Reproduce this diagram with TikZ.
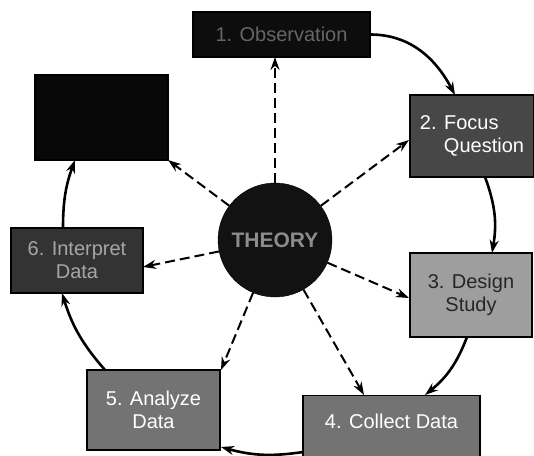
\documentclass[tikz,border=0pt]{standalone}
\usepackage{fontspec}
\setmainfont{Liberation Sans}
\usetikzlibrary{arrows.meta}
\begin{document}
\begin{tikzpicture}[x=1pt,y=1pt,
  box/.style={draw=black,line width=1.2pt,inner sep=0pt,align=center,
    font=\fontsize{20}{23}\selectfont},
  cyc/.style={line width=2.6pt,-{Stealth[length=13pt,width=9pt]}},
  dsh/.style={line width=2pt,dash pattern=on 10pt off 5pt,-{Stealth[length=13pt,width=9pt]}}]
\useasboundingbox (0,0) rectangle (534,455);
% boxes
\node[box,fill=black!95,text=black!60,minimum width=177pt,minimum height=45pt] (b1) at (281.5,420.5) {1. Observation};
\node[box,fill=black!72,text=white!92,minimum width=124pt,minimum height=82pt,align=left] (b2) at (472,319) {2. Focus\\\hspace*{1.2em}Question};
\node[box,fill=black!38,text=black!85,minimum width=122pt,minimum height=84pt] (b3) at (471,160) {3. Design\\Study};
\node[box,fill=black!55,text=white!90,minimum width=177pt,minimum height=66pt,anchor=north] (b4) at (391.5,60) {\raisebox{14pt}{4. Collect Data}};
\node[box,fill=black!55,text=white!92,minimum width=133pt,minimum height=80pt] (b5) at (153.5,45) {5. Analyze\\Data};
\node[box,fill=black!80,text=black!35,minimum width=132pt,minimum height=65pt] (b6) at (77,194.5) {6. Interpret\\Data};
\node[box,fill=black!97,minimum width=133pt,minimum height=85pt] (b7) at (101.5,337.5) {};
% theory
\node[circle,draw=black,fill=black!93,minimum size=114pt,inner sep=0pt,text=black!45,
  font=\bfseries\fontsize{21}{24}\selectfont] (th) at (275,215) {THEORY};
% cycle arrows
\coordinate (c1a) at (370,420.5);
\coordinate (c1b) at (455,360);
\coordinate (c2a) at (485,278);
\coordinate (c2b) at (492,202);
\coordinate (c3a) at (467,118);
\coordinate (c3b) at (425,60);
\coordinate (c4a) at (303,3);
\coordinate (c4b) at (221,8);
\coordinate (c5a) at (105,85);
\coordinate (c5b) at (62,162);
\coordinate (c6a) at (63,227);
\coordinate (c6b) at (75,295);
\draw[cyc] (c1a) to[out=0,in=118] (c1b);
\draw[cyc] (c2a) to[bend left=15] (c2b);
\draw[cyc] (c3a) to[bend left=15] (c3b);
\draw[cyc] (c4a) to[bend left=12] (c4b);
\draw[cyc] (c5a) to[bend left=12] (c5b);
\draw[cyc] (c6a) to[bend left=10] (c6b);
% dashed arrows from theory
\coordinate (d1) at (275,398);
\coordinate (d2) at (409,315);
\coordinate (d3) at (409,157);
\coordinate (d4) at (364,60);
\coordinate (d5) at (221,85);
\coordinate (d6) at (143,188);
\coordinate (d7) at (168,295);
\foreach \d in {d1,d2,d3,d4,d5,d6,d7} \draw[dsh] (th) -- (\d);
\end{tikzpicture}
\end{document}
